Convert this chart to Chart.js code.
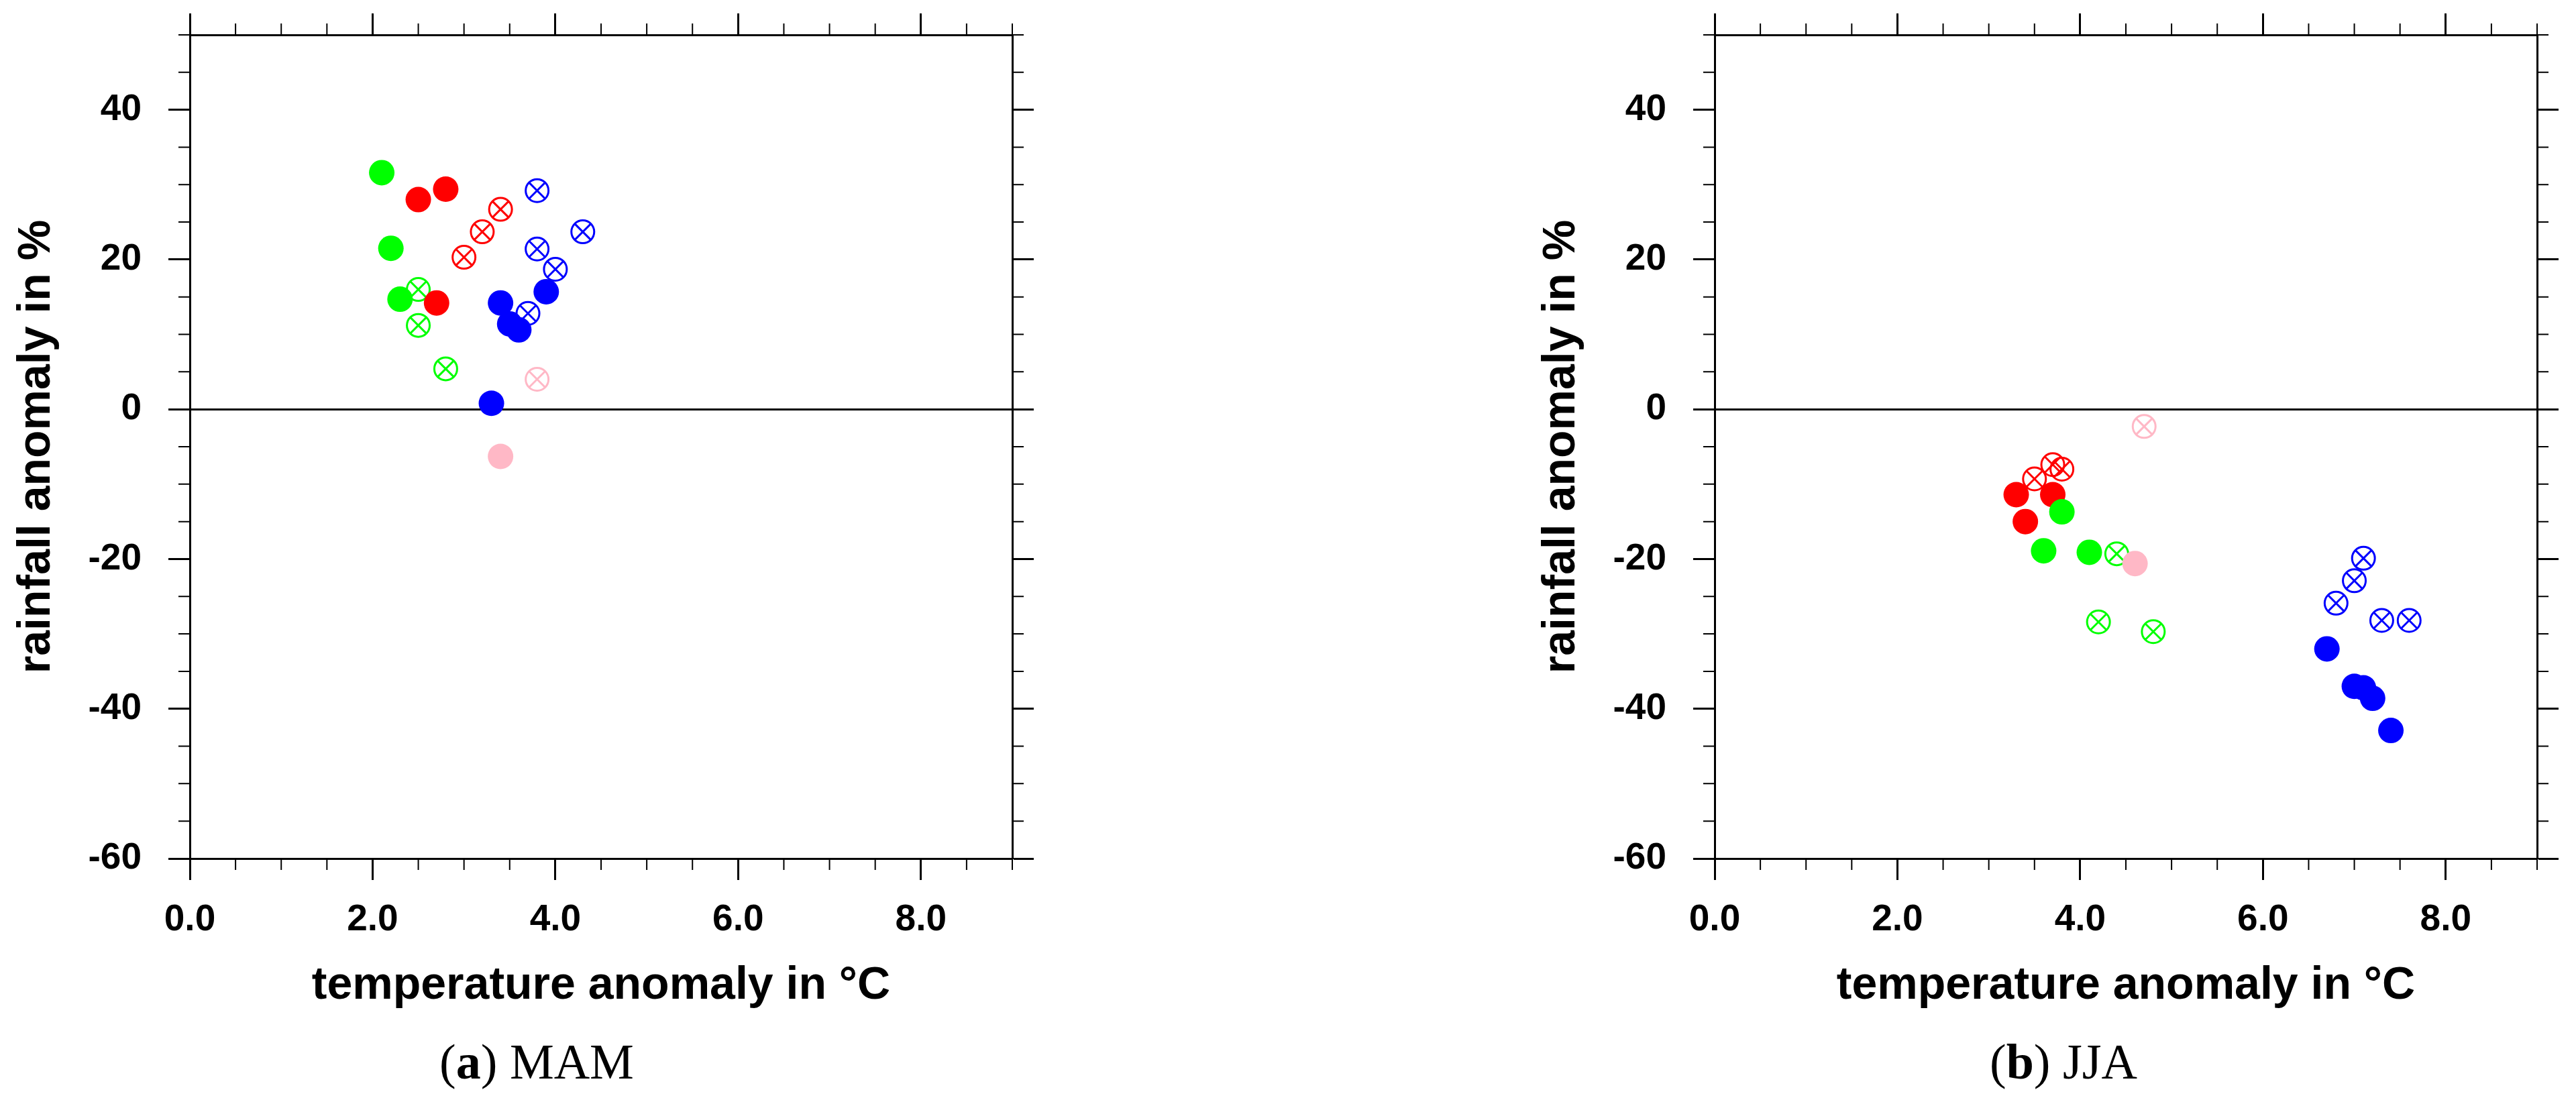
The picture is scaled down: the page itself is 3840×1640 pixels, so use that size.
<!DOCTYPE html>
<html>
<head>
<meta charset="utf-8">
<script src="https://cdn.jsdelivr.net/npm/chart.js@4.4.1/dist/chart.umd.min.js"></script>
<style>
  html, body { margin: 0; padding: 0; background: #fff; }
  body { width: 3840px; height: 1640px; position: relative; overflow: hidden; }
  canvas { position: absolute; top: 0; }
  #mam { left: 0; }
  #jja { left: 2273px; }
  .caption {
    position: absolute; top: 1546px; width: 600px; margin-left: -300px;
    text-align: center; font-family: "Liberation Serif", "DejaVu Serif", serif;
    font-size: 74px; line-height: 74px; color: #000;
  }
</style>
</head>
<body>
<canvas id="mam" width="1560" height="1520"></canvas>
<canvas id="jja" width="1560" height="1520"></canvas>
<div class="caption" style="left:800px">(<b>a</b>) MAM</div>
<div class="caption" style="left:3076px">(<b>b</b>) JJA</div>

<script>
// axes
const xTicks = [0, 2, 4, 6, 8];
const yTicks = [-60, -40, -20, 0, 20, 40];
const xMinor = [0.5, 1, 1.5, 2.5, 3, 3.5, 4.5, 5, 5.5, 6.5, 7, 7.5, 8.5, 9];
const yMinor = [-55, -50, -45, -35, -30, -25, -15, -10, -5, 5, 10, 15, 25, 30, 35, 45, 50];

// MAM: [temperature anomaly, rainfall anomaly]
const mamGreenFilled = [[2.1, 31.6], [2.2, 21.5], [2.3, 14.7]];
const mamGreenOpen = [[2.5, 16.0], [2.5, 11.2], [2.8, 5.4]];
const mamRedFilled = [[2.5, 28.0], [2.8, 29.4], [2.7, 14.2]];
const mamRedOpen = [[3.4, 26.7], [3.2, 23.7], [3.0, 20.3]];
const mamBlueFilled = [[3.4, 14.2], [3.9, 15.7], [3.5, 11.4], [3.6, 10.6], [3.3, 0.8]];
const mamBlueOpen = [[3.8, 29.2], [4.3, 23.7], [3.8, 21.4], [4.0, 18.7], [3.7, 12.8]];
const mamPinkFilled = [[3.4, -6.3]];
const mamPinkOpen = [[3.8, 4.0]];

// JJA
const jjaGreenFilled = [[3.8, -13.7], [3.6, -18.9], [4.1, -19.1]];
const jjaGreenOpen = [[4.4, -19.3], [4.2, -28.4], [4.8, -29.7]];
const jjaRedFilled = [[3.3, -11.4], [3.7, -11.4], [3.4, -15.0]];
const jjaRedOpen = [[3.7, -7.4], [3.8, -8.0], [3.5, -9.3]];
const jjaBlueFilled = [[6.7, -32.0], [7.0, -37.0], [7.1, -37.2], [7.2, -38.6], [7.4, -42.9]];
const jjaBlueOpen = [[7.1, -19.9], [7.0, -22.9], [6.8, -25.9], [7.3, -28.2], [7.6, -28.2]];
const jjaPinkFilled = [[4.6, -20.6]];
const jjaPinkOpen = [[4.7, -2.3]];

const GREEN = '#00ff00';
const RED = '#ff0000';
const BLUE = '#0000ff';
const PINK = '#ffb8c6';
const FONT = '"Liberation Sans", Arial, Helvetica, sans-serif';

function toPoints(arr) {
    return arr.map(p => ({ x: p[0], y: p[1] }));
}

function filled(arr, color) {
    return {
        data: toPoints(arr),
        pointStyle: 'circle',
        pointRadius: 19,
        backgroundColor: color,
        borderColor: color,
        borderWidth: 0
    };
}

// open marker = ring + diagonal cross
function openRing(arr, color) {
    return {
        data: toPoints(arr),
        pointStyle: 'circle',
        pointRadius: 17,
        backgroundColor: 'rgba(0,0,0,0)',
        borderColor: color,
        borderWidth: 3
    };
}

function openCross(arr, color) {
    return {
        data: toPoints(arr),
        pointStyle: 'crossRot',
        pointRadius: 17,
        borderColor: color,
        borderWidth: 3
    };
}

// draws the short NCL-style minor ticks on all four sides
const minorTicks = {
    id: 'minorTicks',
    afterDraw(chart) {
        const { ctx, chartArea: a, scales } = chart;
        ctx.save();
        ctx.strokeStyle = '#000';
        ctx.lineWidth = 2;
        ctx.beginPath();
        xMinor.forEach(v => {
            const px = scales.x.getPixelForValue(v);
            ctx.moveTo(px, a.bottom); ctx.lineTo(px, a.bottom + 17);
            ctx.moveTo(px, a.top); ctx.lineTo(px, a.top - 17);
        });
        yMinor.forEach(v => {
            const py = scales.y.getPixelForValue(v);
            ctx.moveTo(a.left, py); ctx.lineTo(a.left - 17, py);
            ctx.moveTo(a.right, py); ctx.lineTo(a.right + 17, py);
        });
        ctx.stroke();
        ctx.restore();
    }
};

function makeScales() {
    const border = { display: true, color: '#000', width: 3 };
    const titleFont = { family: FONT, size: 68, weight: 'bold', lineHeight: 1 };
    const tickFont = { family: FONT, size: 55, weight: 'bold' };
    return {
        x: {
            type: 'linear', position: 'bottom', min: 0, max: 9,
            afterBuildTicks: s => { s.ticks = xTicks.map(v => ({ value: v })); },
            afterFit: s => { s.height = 240; s.paddingLeft = 0; s.paddingRight = 0; },
            border: border,
            grid: { drawOnChartArea: false, tickLength: 32, tickWidth: 3, tickColor: '#000' },
            ticks: { autoSkip: false, maxRotation: 0, padding: 27, color: '#000', font: tickFont,
                     callback: v => v.toFixed(1) },
            title: { display: true, text: 'temperature anomaly in °C', color: '#000', font: titleFont,
                     padding: { top: 0, bottom: 16 } }
        },
        x2: {
            type: 'linear', position: 'top', min: 0, max: 9,
            afterBuildTicks: s => { s.ticks = xTicks.map(v => ({ value: v })); },
            afterFit: s => { s.height = 52; },
            border: border,
            grid: { drawOnChartArea: false, tickLength: 32, tickWidth: 3, tickColor: '#000' },
            ticks: { display: false }
        },
        y: {
            type: 'linear', position: 'left', min: -60, max: 50, z: 1,
            afterBuildTicks: s => { s.ticks = yTicks.map(v => ({ value: v })); },
            afterFit: s => { s.width = 283; s.paddingTop = 0; s.paddingBottom = 0; },
            border: border,
            grid: {
                drawOnChartArea: true,
                color: c => (c.tick && c.tick.value === 0) ? '#000' : 'rgba(0,0,0,0)',
                lineWidth: 3, tickLength: 32, tickWidth: 3, tickColor: '#000'
            },
            ticks: { autoSkip: false, padding: 40, color: '#000', font: tickFont,
                     callback: v => String(v) },
            title: { display: true, text: 'rainfall anomaly in %', color: '#000', font: titleFont,
                     padding: { top: 21, bottom: 0 } }
        },
        y2: {
            type: 'linear', position: 'right', min: -60, max: 50,
            afterBuildTicks: s => { s.ticks = yTicks.map(v => ({ value: v })); },
            afterFit: s => { s.width = 51; },
            border: border,
            grid: { drawOnChartArea: false, tickLength: 32, tickWidth: 3, tickColor: '#000' },
            ticks: { display: false }
        }
    };
}

function makeChart(id, g) {
    // first dataset is drawn on top
    const datasets = [
        filled(g.pinkFilled, PINK),
        filled(g.blueFilled, BLUE),
        filled(g.greenFilled, GREEN),
        filled(g.redFilled, RED),
        openRing(g.pinkOpen, PINK), openCross(g.pinkOpen, PINK),
        openRing(g.blueOpen, BLUE), openCross(g.blueOpen, BLUE),
        openRing(g.redOpen, RED), openCross(g.redOpen, RED),
        openRing(g.greenOpen, GREEN), openCross(g.greenOpen, GREEN)
    ];
    return new Chart(document.getElementById(id), {
        type: 'scatter',
        data: { datasets: datasets },
        options: {
            responsive: false,
            animation: false,
            events: [],
            layout: { padding: 0 },
            scales: makeScales(),
            plugins: {
                legend: { display: false },
                tooltip: { enabled: false }
            }
        },
        plugins: [minorTicks]
    });
}

makeChart('mam', {
    greenFilled: mamGreenFilled, greenOpen: mamGreenOpen,
    redFilled: mamRedFilled, redOpen: mamRedOpen,
    blueFilled: mamBlueFilled, blueOpen: mamBlueOpen,
    pinkFilled: mamPinkFilled, pinkOpen: mamPinkOpen
});

makeChart('jja', {
    greenFilled: jjaGreenFilled, greenOpen: jjaGreenOpen,
    redFilled: jjaRedFilled, redOpen: jjaRedOpen,
    blueFilled: jjaBlueFilled, blueOpen: jjaBlueOpen,
    pinkFilled: jjaPinkFilled, pinkOpen: jjaPinkOpen
});
</script>
</body>
</html>
